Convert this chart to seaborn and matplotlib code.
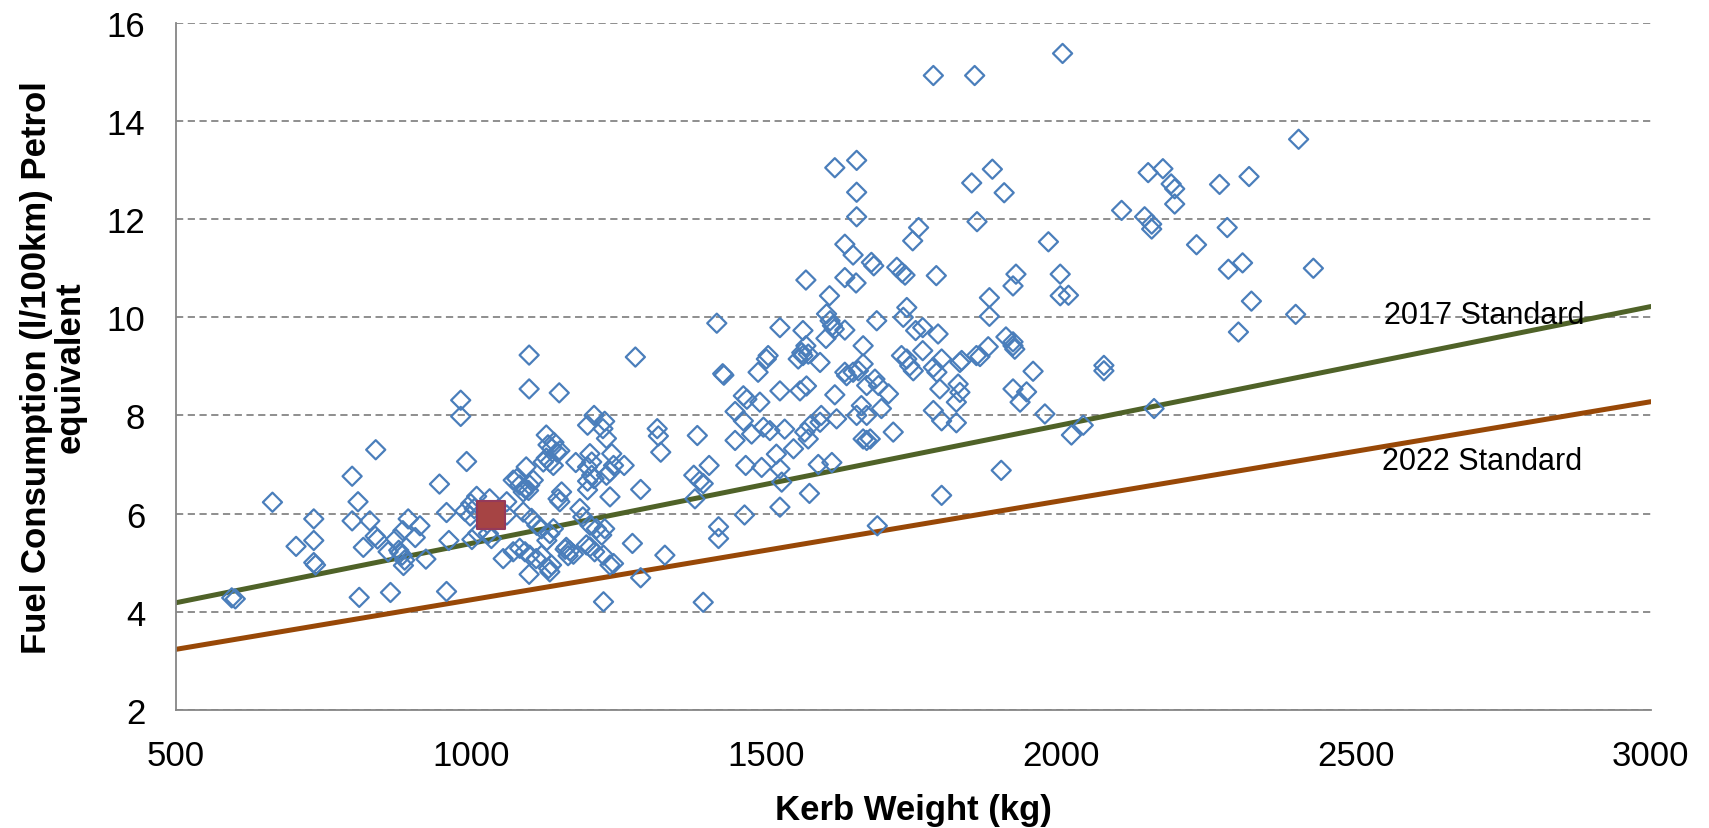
import pandas as pd
import matplotlib
matplotlib.use("Agg")
import matplotlib.pyplot as plt
import seaborn as sns

# kerb weight (kg) and petrol-equivalent consumption (l/100km) per model
kerb_weight = [
    595, 601, 664, 704, 734, 734, 734, 737, 799, 809, 799, 829, 839, 818, 838, 842, 811, 864, 860,
    880, 884, 888, 878, 873, 885, 894, 906, 914, 886, 924, 947, 959, 963, 959, 983, 983, 993,
    990, 1000, 1006, 1010, 1002, 1012, 999,
    1032, 1035, 1030, 1061, 1061, 1089, 1103, 1112, 1120, 1134, 1129, 1140,
    1072, 1055, 1083, 1092, 1100, 1111, 1120, 1099, 1134, 1137, 1132,
    1094, 1078, 1072, 1083, 1092, 1098, 1100, 1089, 1106, 1099, 1099, 1128,
    1131, 1137, 1141, 1146, 1151, 1128, 1134, 1140, 1123, 1150, 1154, 1151, 1148,
    1178, 1202, 1205, 1198, 1205, 1209, 1198, 1198, 1209, 1198, 1227, 1224, 1230,
    1239, 1242, 1236, 1230, 1260, 1236, 1279, 1288, 1190, 1185, 1202, 1213, 1227, 1222,
    1162, 1168, 1174, 1160, 1165, 1196, 1202, 1210, 1225, 1236, 1242, 1274, 1288, 1225,
    1316, 1318, 1322, 1329, 1384, 1378, 1388, 1394, 1404, 1380, 1394, 1417, 1427, 1420, 1420, 1429,
    1462, 1468, 1490, 1448, 1462, 1476, 1448, 1466, 1493, 1524, 1518, 1547, 1527, 1524, 1464,
    1524, 1504, 1501, 1487, 1524, 1496, 1507, 1532, 1558,
    1563, 1568, 1561, 1563, 1555, 1572, 1568, 1569, 1592, 1594, 1620, 1575, 1566, 1572, 1592, 1589, 1612, 1574,
    1603, 1609, 1613, 1616, 1602, 1634, 1608, 1617, 1634, 1653, 1634, 1648, 1654, 1617, 1654, 1654,
    1665, 1665, 1657, 1634, 1637, 1648, 1685, 1671, 1691, 1654, 1662, 1671, 1696, 1665, 1671, 1677, 1689,
    1679, 1683, 1722, 1731, 1736, 1688, 1708, 1716, 1733, 1739, 1730, 1739, 1744, 1750,
    1749, 1759, 1754, 1766, 1766, 1792, 1789, 1784, 1790, 1798, 1795, 1784, 1798, 1798, 1784, 1854,
    1829, 1857, 1826, 1829, 1823, 1823, 1858, 1849, 1884, 1904, 1863, 1877, 1879, 1879, 1832,
    1907, 1919, 1922, 1919, 1924, 1919, 1953, 1919, 1942, 1931, 1973, 1979, 1899,
    2003, 1999, 1999, 2013, 2073, 2073, 2038, 2018, 2103, 2158,
    2148, 2173, 2187, 2193, 2193, 2142, 2154, 2154, 2230, 2269, 2319, 2282, 2284, 2308, 2301, 2323,
    2403, 2398, 2428,
]
fuel_use = [
    4.28, 4.26, 6.23, 5.33, 5.89, 5.45, 5.00, 4.95, 6.76, 6.24, 5.85, 5.85, 7.30, 5.31, 5.54, 5.48, 4.29, 4.39, 5.22,
    5.20, 5.15, 5.05, 5.25, 5.48, 5.65, 5.89, 5.51, 5.75, 4.94, 5.07, 6.60, 6.02, 5.45, 4.41, 8.31, 7.98, 7.06,
    6.05, 6.20, 6.10, 6.35, 5.47, 5.60, 5.95,
    6.30, 5.49, 5.59, 6.24, 5.97, 6.03, 5.90, 5.76, 5.69, 5.59, 5.45, 5.69,
    5.22, 5.08, 5.29, 5.22, 5.15, 5.08, 5.15, 4.76, 4.81, 4.95, 4.88,
    6.95, 6.71, 6.68, 6.58, 6.51, 6.47, 6.58, 6.44, 6.68, 9.23, 8.54, 7.60,
    7.40, 7.33, 7.45, 7.25, 7.28, 7.13, 7.05, 6.98, 7.05, 8.46, 6.44, 6.24, 6.30,
    7.04, 7.22, 7.05, 6.95, 6.78, 6.71, 6.66, 6.48, 8.00, 7.80, 7.88, 7.73, 7.53,
    7.22, 6.98, 6.85, 6.78, 6.98, 6.34, 9.19, 6.49, 5.93, 6.10, 5.76, 5.69, 5.69, 5.56,
    5.31, 5.24, 5.17, 5.27, 5.14, 5.36, 5.32, 5.22, 5.15, 4.95, 4.98, 5.39, 4.69, 4.20,
    7.73, 7.58, 7.25, 5.15, 7.59, 6.78, 6.66, 6.61, 6.98, 6.30, 4.19, 9.88, 8.85, 5.73, 5.49, 8.82,
    8.40, 8.33, 8.27, 8.08, 7.89, 7.62, 7.49, 6.98, 6.94, 6.91, 7.21, 7.32, 6.64, 6.13, 5.97,
    9.79, 9.22, 9.15, 8.88, 8.50, 7.76, 7.69, 7.72, 8.50,
    9.73, 9.42, 9.28, 9.22, 9.15, 9.25, 10.76, 8.60, 9.08, 8.00, 7.93, 7.79, 7.66, 7.52, 7.86, 7.00, 7.04, 6.41,
    10.07, 9.93, 9.83, 9.76, 9.57, 9.74, 10.44, 8.42, 10.81, 10.70, 11.49, 11.27, 12.05, 13.05, 13.20, 12.55,
    9.42, 9.05, 8.91, 8.88, 8.81, 8.88, 8.74, 8.61, 8.61, 8.00, 8.20, 8.00, 8.14, 7.52, 7.49, 7.52, 5.75,
    11.12, 11.05, 11.02, 10.91, 10.86, 9.93, 8.44, 7.66, 10.00, 10.20, 9.22, 9.15, 9.01, 8.91,
    11.56, 11.83, 9.73, 9.79, 9.32, 9.66, 10.85, 8.98, 8.88, 9.15, 8.54, 8.10, 7.89, 6.37, 14.93, 14.93,
    9.08, 9.22, 8.64, 8.47, 8.27, 7.85, 11.95, 12.74, 13.02, 12.54, 9.20, 9.40, 10.40, 10.02, 9.12,
    9.60, 9.50, 9.35, 9.42, 10.88, 10.64, 8.90, 8.54, 8.48, 8.27, 8.03, 11.54, 6.88,
    15.38, 10.88, 10.44, 10.45, 9.02, 8.91, 7.80, 7.60, 12.18, 8.14,
    12.95, 13.03, 12.72, 12.62, 12.31, 12.05, 11.90, 11.80, 11.48, 12.71, 12.87, 11.83, 10.98, 11.11, 9.70, 10.33,
    13.63, 10.06, 11.00,
]

# highlighted model
highlight_weight = [1035]
highlight_fuel = [5.97]

# standard lines
std_weight = [500, 3000]
std_2017 = [4.18, 10.22]
std_2022 = [3.23, 8.28]

df = pd.DataFrame({"kerb_weight": kerb_weight, "fuel": fuel_use})

sns.set_style("white")
plt.rcParams["font.family"] = ["Liberation Sans", "DejaVu Sans"]
plt.rcParams["text.color"] = "black"
plt.rcParams["axes.labelcolor"] = "black"
plt.rcParams["xtick.labelcolor"] = "black"
plt.rcParams["ytick.labelcolor"] = "black"

fig, ax = plt.subplots(figsize=(17.09, 8.29), dpi=100)
fig.subplots_adjust(left=0.1028, right=0.966, top=0.971, bottom=0.1427)

grey = "#868686"
ax.yaxis.grid(True, linestyle=(0, (4, 2.5)), color=grey, linewidth=1.3)
ax.set_axisbelow(True)

sns.lineplot(x=std_weight, y=std_2017, color="#4F6228", linewidth=3.6, ax=ax, zorder=2)
sns.lineplot(x=std_weight, y=std_2022, color="#984807", linewidth=3.6, ax=ax, zorder=2)

sns.scatterplot(data=df, x="kerb_weight", y="fuel", marker="D", s=95,
                color="#4A7EBB", facecolor="none", edgecolor="#4A7EBB",
                linewidth=1.6, ax=ax, zorder=3)
sns.scatterplot(x=highlight_weight, y=highlight_fuel, marker="s", s=390,
                color="#A64444", edgecolor="#953A5A", linewidth=1.5, ax=ax, zorder=4)

ax.text(2548, 10.05, "2017 Standard", fontsize=22, va="center", color="black")
ax.text(2545, 7.07, "2022 Standard", fontsize=22, va="center", color="black")

ax.set_xlim(500, 3000)
ax.set_ylim(2, 16)
ax.set_xticks(range(500, 3001, 500))
ax.set_yticks(range(2, 17, 2))

for side in ["top", "right"]:
    ax.spines[side].set_visible(False)
for side in ["left", "bottom"]:
    ax.spines[side].set_color(grey)
    ax.spines[side].set_linewidth(1.3)

ax.tick_params(direction="out", length=8, width=1.3, color=grey, labelsize=25,
               labelcolor="black")
ax.tick_params(axis="x", pad=13)
ax.tick_params(axis="y", pad=14)

ax.set_xlabel("Kerb Weight (kg)", fontsize=25, fontweight="bold", labelpad=15)
ax.set_ylabel("Fuel Consumption (l/100km) Petrol\nequivalent", fontsize=25,
              fontweight="bold", labelpad=14, linespacing=1.05)

fig.savefig("out.png", dpi=100)
